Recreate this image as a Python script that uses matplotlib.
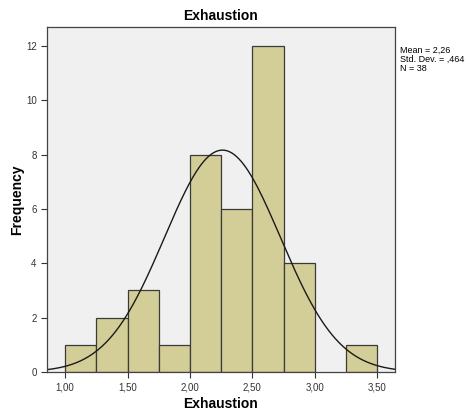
import matplotlib
matplotlib.use('Agg')
import matplotlib.pyplot as plt
import numpy as np

plt.rcParams['font.family'] = ['Liberation Sans', 'DejaVu Sans']

# histogram data
bin_edges = [1.00, 1.25, 1.50, 1.75, 2.00, 2.25, 2.50, 2.75, 3.00, 3.25, 3.50]
counts = [1, 2, 3, 1, 8, 6, 12, 4, 0, 1]
mean = 2.26
std = 0.464
n = 38
x_ticks = [1.0, 1.5, 2.0, 2.5, 3.0, 3.5]
x_tick_labels = ['1,00', '1,50', '2,00', '2,50', '3,00', '3,50']
y_ticks = [0, 2, 4, 6, 8, 10, 12]

fig = plt.figure(figsize=(4.7, 4.16), dpi=100)
ax = fig.add_axes([0.1, 0.106, 0.74, 0.829])
ax.set_facecolor('#F0F0F0')

widths = np.diff(bin_edges)
for left, w, c in zip(bin_edges[:-1], widths, counts):
    if c > 0:
        ax.bar(left, c, width=w, align='edge', color='#D3CE97',
               edgecolor='#3A3A3A', linewidth=0.9)

# normal curve scaled to counts
xs = np.linspace(0.855, 3.64, 300)
bw = 0.25
ys = n * bw / (std * np.sqrt(2 * np.pi)) * np.exp(-0.5 * ((xs - mean) / std) ** 2)
ax.plot(xs, ys, color='#1A1A1A', linewidth=1.0)

ax.set_xlim(0.855, 3.64)
ax.set_ylim(0, 12.7)
ax.set_xticks(x_ticks)
ax.set_xticklabels(x_tick_labels)
ax.set_yticks(y_ticks)
ax.tick_params(labelsize=7, colors='#333333', length=4, width=0.8)
for s in ax.spines.values():
    s.set_color('#444444')
    s.set_linewidth(0.9)

ax.set_title('Exhaustion', fontsize=10, fontweight='bold', pad=5)
ax.set_xlabel('Exhaustion', fontsize=10, fontweight='bold')
ax.set_ylabel('Frequency', fontsize=10, fontweight='bold')
ax.xaxis.set_label_coords(0.5, -0.072)
ax.yaxis.set_label_coords(-0.066, 0.5)

fig.text(0.852, 0.89, 'Mean = 2,26\nStd. Dev. = ,464\nN = 38', fontsize=6.5,
         va='top', ha='left', linespacing=1.0)

fig.savefig('out.png', dpi=100)
